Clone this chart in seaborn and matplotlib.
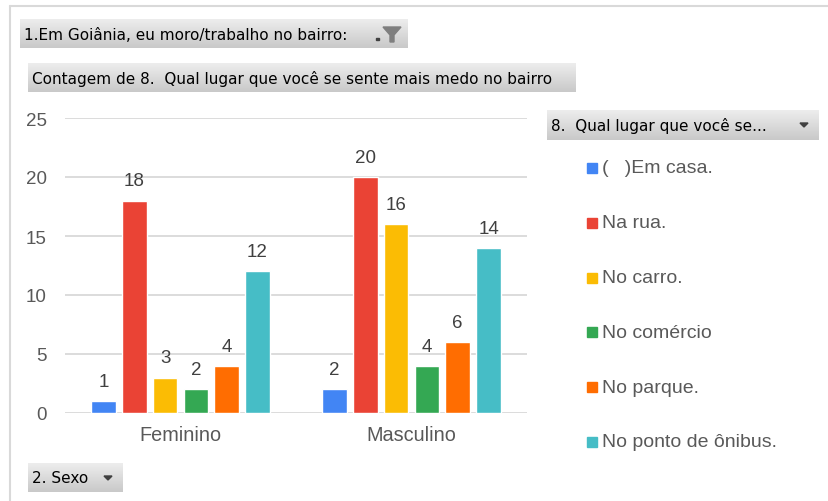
import numpy as np
import pandas as pd
import matplotlib
matplotlib.use("Agg")
import matplotlib.pyplot as plt
from matplotlib.patches import Rectangle, Polygon
from matplotlib.colors import LinearSegmentedColormap
import seaborn as sns

# ============================================================
# DADOS
# ============================================================
SEXO = ["Feminino", "Masculino"]
LUGARES = ["(   )Em casa.", "Na rua.", "No carro.", "No comércio",
           "No parque.", "No ponto de ônibus."]
FEMININO = [1, 18, 3, 2, 4, 12]
MASCULINO = [2, 20, 16, 4, 6, 14]
CORES = ["#4285F4", "#EA4335", "#FBBC04", "#34A853", "#FF6D01", "#46BDC6"]
Y_TICKS = [0, 5, 10, 15, 20, 25]

FILTRO = "1.Em Goiânia, eu moro/trabalho no bairro:"
TITULO = "Contagem de 8.  Qual lugar que você se sente mais medo no bairro"
LEGENDA_TITULO = "8.  Qual lugar que você se..."
EIXO_X = "2. Sexo"

W, H = 829, 502
TXT = "#595959"
GRADE = "#D9D9D9"

sns.set_style("white")
plt.rcParams["font.family"] = ["Liberation Sans", "DejaVu Sans"]

fig = plt.figure(figsize=(W / 100, H / 100), dpi=100)
fundo = fig.add_axes([0, 0, 1, 1])
fundo.set_axis_off()
fundo.set_zorder(0)

cmap_botao = LinearSegmentedColormap.from_list("botao", ["#EDEDED", "#C9C9C9"])


def botao(x0, y0, x1, y1, texto, fs=11):
    grad = np.linspace(0, 1, 32).reshape(-1, 1)
    fundo.imshow(grad, extent=(x0, x1, y1, y0), cmap=cmap_botao,
                 aspect="auto", zorder=1, interpolation="bilinear")
    fundo.text(x0 + 4, (y0 + y1) / 2 + 0.5, texto, va="center", ha="left",
               fontsize=fs, color="black", family="DejaVu Sans", zorder=2)


def seta(xc, yc, cor="#404040"):
    fundo.add_patch(Polygon([[xc - 4, yc - 2], [xc + 4, yc - 2], [xc, yc + 2]],
                            closed=True, color=cor, zorder=3))


# moldura
fundo.plot([10, 10], [H, 7], color=GRADE, lw=1.5)
fundo.plot([10, W], [7, 7], color=GRADE, lw=1.5)

botao(20, 20, 408, 49, FILTRO)
# icone de filtro
fundo.add_patch(Polygon([[383, 28], [401, 28], [394, 36], [394, 43], [390, 43], [390, 36]],
                        closed=True, color="#7F7F7F", zorder=3))
fundo.add_patch(Rectangle((376, 39), 3, 2, color="#404040", zorder=3))

botao(28, 64, 576, 93, TITULO)
botao(547, 111, 819, 141, LEGENDA_TITULO)
seta(804, 126)
botao(28, 464, 123, 493, EIXO_X)
seta(108, 479)

# legenda
for i, (rotulo, cor) in enumerate(zip(LUGARES, CORES)):
    yc = 169 + i * 54.8
    fundo.add_patch(Rectangle((587, yc - 5), 10, 10, color=cor, zorder=3))
    fundo.text(602, yc, rotulo, va="center", ha="left", fontsize=14, color=TXT)

fundo.set_xlim(0, W)
fundo.set_ylim(H, 0)

# ============================================================
# GRAFICO DE BARRAS
# ============================================================
df = pd.DataFrame({
    "Sexo": np.repeat(SEXO, len(LUGARES)),
    "Lugar": LUGARES * len(SEXO),
    "Contagem": FEMININO + MASCULINO,
})

ax = fig.add_axes([65 / W, (H - 414) / H, 462 / W, 295 / H])
ax.set_zorder(1)
ax.patch.set_alpha(0)
sns.barplot(data=df, x="Sexo", y="Contagem", hue="Lugar", hue_order=LUGARES,
            palette=CORES, saturation=1, width=0.8, gap=0.2, legend=False, ax=ax)

for cont in ax.containers:
    ax.bar_label(cont, padding=8, fontsize=13.5, color="#404040")

ax.set_xlim(-0.5, 1.5)
ax.set_ylim(0, 25)
ax.set_yticks(Y_TICKS)
ax.yaxis.grid(True, color=GRADE, lw=1.3)
ax.set_axisbelow(True)
for s in ax.spines.values():
    s.set_visible(False)
ax.tick_params(axis="y", length=0, pad=13, labelsize=13.5, labelcolor=TXT)
ax.tick_params(axis="x", length=0, pad=9, labelsize=14.3, labelcolor=TXT)
ax.set_xlabel("")
ax.set_ylabel("")

fig.savefig("out.png", dpi=100)
